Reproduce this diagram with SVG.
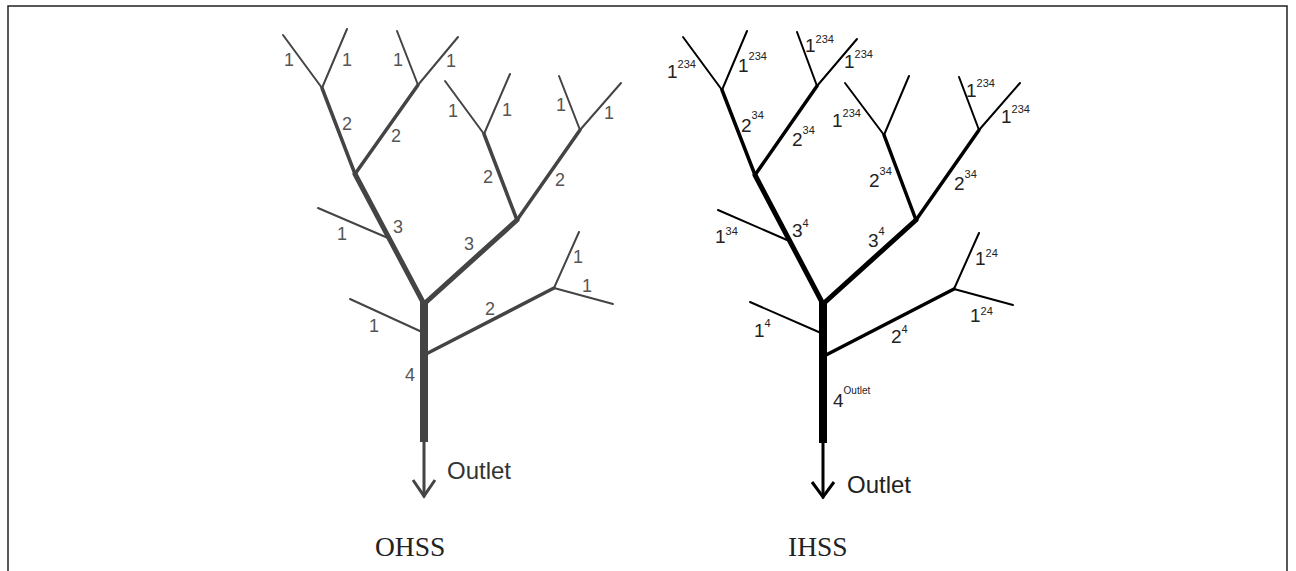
<svg xmlns="http://www.w3.org/2000/svg" width="1296" height="571" viewBox="0 0 1296 571">
<style>
.bg{fill:#fff}
.frame{fill:none;stroke:#222;stroke-width:1.5}
.l line{stroke:#444;stroke-linecap:round;fill:none}
.r line{stroke:#000;stroke-linecap:round;fill:none}
.o1{stroke-width:2}
.o2{stroke-width:3.5}
.o3{stroke-width:5}
.o4{stroke-width:8;stroke-linecap:butt!important}
.arr{stroke-width:3;fill:none}
.lt{font-family:"Liberation Sans",Arial,sans-serif;font-size:18px;fill:#555;text-anchor:middle}
.rt{font-family:"Liberation Sans",Arial,sans-serif;font-size:19px;fill:#222}
.sup{font-size:11px}
.out{font-family:"Liberation Sans",Arial,sans-serif;font-size:24px}
.cap{font-family:"Liberation Serif","Times New Roman",serif;font-size:27.5px;fill:#222}
</style>
<rect class="bg" x="0" y="0" width="1296" height="571"/>
<path class="frame" d="M8,571 V6 H1287 V571"/>

<g id="ohss">
  <g id="ohss-connectors" class="l">
    <line class="o1" x1="283" y1="35" x2="322" y2="88"/>
    <line class="o1" x1="347" y1="29" x2="322" y2="88"/>
    <line class="o1" x1="397" y1="31" x2="418" y2="85"/>
    <line class="o1" x1="458" y1="37" x2="418" y2="85"/>
    <line class="o1" x1="445" y1="81" x2="484" y2="134"/>
    <line class="o1" x1="510" y1="74" x2="484" y2="134"/>
    <line class="o1" x1="559" y1="76" x2="580" y2="130"/>
    <line class="o1" x1="621" y1="83" x2="580" y2="130"/>
    <line class="o1" x1="318" y1="208" x2="388" y2="238"/>
    <line class="o1" x1="350" y1="299" x2="422" y2="332"/>
    <line class="o1" x1="579" y1="232" x2="554" y2="288"/>
    <line class="o1" x1="613" y1="304" x2="554" y2="288"/>
    <line class="o2" x1="322" y1="88" x2="355" y2="174"/>
    <line class="o2" x1="418" y1="85" x2="355" y2="174"/>
    <line class="o2" x1="484" y1="134" x2="517" y2="220"/>
    <line class="o2" x1="580" y1="130" x2="517" y2="220"/>
    <line class="o2" x1="426" y1="354" x2="554" y2="288"/>
    <line class="o3" x1="355" y1="174" x2="424" y2="304"/>
    <line class="o3" x1="517" y1="220" x2="424" y2="304"/>
    <line class="o4" x1="424" y1="302" x2="424" y2="442"/>
    <line class="arr" x1="424" y1="442" x2="424" y2="496"/>
    <polyline class="arr" points="413,480 424,496 435,480" style="stroke:#444;stroke-width:3;fill:none"/>
  </g>
  <g id="ohss-labels" class="lt">
    <text x="289" y="66">1</text>
    <text x="347" y="66">1</text>
    <text x="347" y="130">2</text>
    <text x="398" y="66">1</text>
    <text x="451" y="67">1</text>
    <text x="396" y="142">2</text>
    <text x="453" y="117">1</text>
    <text x="507" y="116">1</text>
    <text x="488" y="183">2</text>
    <text x="561" y="111">1</text>
    <text x="609" y="119">1</text>
    <text x="560" y="186">2</text>
    <text x="342" y="240">1</text>
    <text x="398" y="233">3</text>
    <text x="469" y="250">3</text>
    <text x="374" y="332">1</text>
    <text x="490" y="315">2</text>
    <text x="410" y="381">4</text>
    <text x="578" y="263">1</text>
    <text x="587" y="292">1</text>
  </g>
  <text class="out" x="447" y="479" fill="#333">Outlet</text>
  <text class="cap" x="375" y="556">OHSS</text>
</g>

<g id="ihss">
  <g id="ihss-connectors" class="r">
    <line class="o1" x1="683" y1="37" x2="722" y2="90"/>
    <line class="o1" x1="747" y1="31" x2="722" y2="90"/>
    <line class="o1" x1="797" y1="32" x2="817" y2="86"/>
    <line class="o1" x1="857" y1="39" x2="817" y2="86"/>
    <line class="o1" x1="845" y1="83" x2="884" y2="135"/>
    <line class="o1" x1="909" y1="76" x2="884" y2="135"/>
    <line class="o1" x1="959" y1="77" x2="979" y2="130"/>
    <line class="o1" x1="1020" y1="83" x2="979" y2="130"/>
    <line class="o1" x1="718" y1="210" x2="787" y2="240"/>
    <line class="o1" x1="750" y1="302" x2="821" y2="333"/>
    <line class="o1" x1="979" y1="233" x2="954" y2="289"/>
    <line class="o1" x1="1013" y1="305" x2="954" y2="289"/>
    <line class="o2" x1="722" y1="90" x2="755" y2="175"/>
    <line class="o2" x1="817" y1="86" x2="755" y2="175"/>
    <line class="o2" x1="884" y1="135" x2="916" y2="220"/>
    <line class="o2" x1="979" y1="130" x2="916" y2="220"/>
    <line class="o2" x1="826" y1="355" x2="954" y2="289"/>
    <line class="o3" x1="755" y1="175" x2="823" y2="304"/>
    <line class="o3" x1="916" y1="220" x2="823" y2="304"/>
    <line class="o4" x1="823" y1="302" x2="823" y2="443"/>
    <line class="arr" x1="823" y1="443" x2="823" y2="497"/>
    <polyline points="812,482 823,497 834,482" style="stroke:#000;stroke-width:3;fill:none"/>
  </g>
  <g id="ihss-labels" class="rt">
    <text x="667" y="78">1<tspan class="sup" dy="-10">234</tspan></text>
    <text x="738" y="72">1<tspan class="sup" dy="-12">234</tspan></text>
    <text x="741" y="132">2<tspan class="sup" dy="-13">34</tspan></text>
    <text x="805" y="52">1<tspan class="sup" dy="-9">234</tspan></text>
    <text x="844" y="68">1<tspan class="sup" dy="-10">234</tspan></text>
    <text x="792" y="146">2<tspan class="sup" dy="-12">34</tspan></text>
    <text x="832" y="127">1<tspan class="sup" dy="-10">234</tspan></text>
    <text x="966" y="97">1<tspan class="sup" dy="-10">234</tspan></text>
    <text x="1001" y="123">1<tspan class="sup" dy="-10">234</tspan></text>
    <text x="869" y="187">2<tspan class="sup" dy="-12">34</tspan></text>
    <text x="954" y="190">2<tspan class="sup" dy="-12">34</tspan></text>
    <text x="715" y="243">1<tspan class="sup" dy="-8">34</tspan></text>
    <text x="792" y="237">3<tspan class="sup" dy="-10">4</tspan></text>
    <text x="868" y="247">3<tspan class="sup" dy="-12">4</tspan></text>
    <text x="754" y="337">1<tspan class="sup" dy="-10">4</tspan></text>
    <text x="975" y="265">1<tspan class="sup" dy="-8">24</tspan></text>
    <text x="970" y="322">1<tspan class="sup" dy="-7">24</tspan></text>
    <text x="891" y="343">2<tspan class="sup" dy="-10">4</tspan></text>
    <text x="833" y="407">4<tspan style="font-size:10px" dy="-13">Outlet</tspan></text>
  </g>
  <text class="out" x="847" y="493" fill="#222">Outlet</text>
  <text class="cap" x="788" y="556">IHSS</text>
</g>
</svg>
